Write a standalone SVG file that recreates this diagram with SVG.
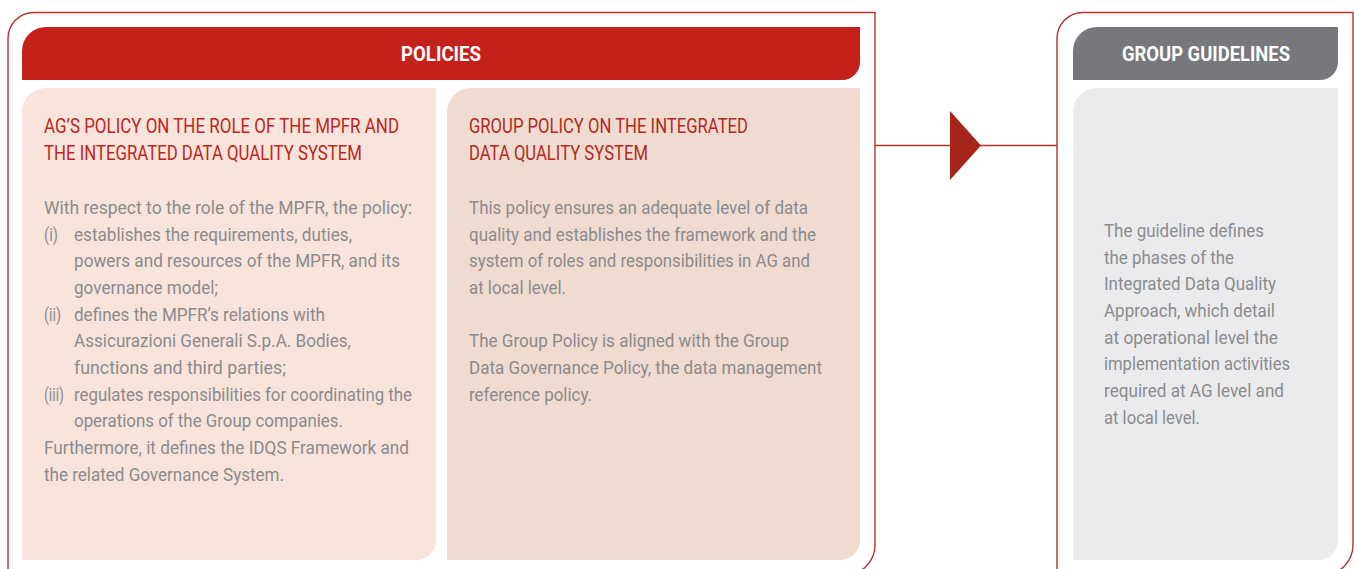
<svg xmlns="http://www.w3.org/2000/svg" width="1354" height="569" viewBox="0 0 1354 569">
<style>
.frame{fill:none;stroke:#b8332b;stroke-width:1.4}
.hdr{font-family:Roboto,"Liberation Sans",sans-serif;font-weight:bold;font-size:21px;fill:#ffffff}
.ttl{font-family:Roboto,"Liberation Sans",sans-serif;font-size:20px;fill:#c0261e}
.body{font-family:Roboto,"Liberation Sans",sans-serif;font-size:19px;fill:#8a8b8e}
</style>
<rect width="1354" height="569" fill="#ffffff"/>
<g id="policies">
<path class="frame" d="M8,600 V38.5 A26,26 0 0 1 34,12.5 H875 V545 A30,30 0 0 1 845,575 H8"/>
<path d="M22,80 V51 A24,24 0 0 1 46,27 H860 V62 A18,18 0 0 1 842,80 Z" fill="#c4211a"/>
<text class="hdr" x="441" y="61" text-anchor="middle" textLength="80" lengthAdjust="spacingAndGlyphs">POLICIES</text>
</g>
<g id="ag-policy">
<path d="M22,560 V112 A24,24 0 0 1 46,88 H436 V540 A20,20 0 0 1 416,560 Z" fill="#f8e4da"/>
<text class="ttl" x="44" y="133" textLength="355" lengthAdjust="spacingAndGlyphs">AG’S POLICY ON THE ROLE OF THE MPFR AND</text>
<text class="ttl" x="44" y="160" textLength="318" lengthAdjust="spacingAndGlyphs">THE INTEGRATED DATA QUALITY SYSTEM</text>
<text class="body" x="44" y="214" textLength="368" lengthAdjust="spacingAndGlyphs">With respect to the role of the MPFR, the policy:</text>
<text class="body" x="44" y="240.7" textLength="14" lengthAdjust="spacingAndGlyphs">(i)</text>
<text class="body" x="74" y="240.7" textLength="278" lengthAdjust="spacingAndGlyphs">establishes the requirements, duties,</text>
<text class="body" x="74" y="267.3" textLength="326" lengthAdjust="spacingAndGlyphs">powers and resources of the MPFR, and its</text>
<text class="body" x="74" y="294" textLength="144" lengthAdjust="spacingAndGlyphs">governance model;</text>
<text class="body" x="44" y="320.7" textLength="17" lengthAdjust="spacingAndGlyphs">(ii)</text>
<text class="body" x="74" y="320.7" textLength="251" lengthAdjust="spacingAndGlyphs">defines the MPFR’s relations with</text>
<text class="body" x="74" y="347.3" textLength="277" lengthAdjust="spacingAndGlyphs">Assicurazioni Generali S.p.A. Bodies,</text>
<text class="body" x="74" y="374" textLength="212" lengthAdjust="spacingAndGlyphs">functions and third parties;</text>
<text class="body" x="44" y="400.7" textLength="20" lengthAdjust="spacingAndGlyphs">(iii)</text>
<text class="body" x="74" y="400.7" textLength="338" lengthAdjust="spacingAndGlyphs">regulates responsibilities for coordinating the</text>
<text class="body" x="74" y="427.3" textLength="269" lengthAdjust="spacingAndGlyphs">operations of the Group companies.</text>
<text class="body" x="44" y="454" textLength="365" lengthAdjust="spacingAndGlyphs">Furthermore, it defines the IDQS Framework and</text>
<text class="body" x="44" y="480.7" textLength="240" lengthAdjust="spacingAndGlyphs">the related Governance System.</text>
</g>
<g id="group-policy">
<path d="M447,560 V112 A24,24 0 0 1 471,88 H860 V540 A20,20 0 0 1 840,560 Z" fill="#f0dbd0"/>
<text class="ttl" x="469" y="133" textLength="279" lengthAdjust="spacingAndGlyphs" style="fill:#b42a22">GROUP POLICY ON THE INTEGRATED</text>
<text class="ttl" x="469" y="160" textLength="179" lengthAdjust="spacingAndGlyphs" style="fill:#b42a22">DATA QUALITY SYSTEM</text>
<text class="body" x="469" y="214" textLength="339" lengthAdjust="spacingAndGlyphs">This policy ensures an adequate level of data</text>
<text class="body" x="469" y="240.7" textLength="347" lengthAdjust="spacingAndGlyphs">quality and establishes the framework and the</text>
<text class="body" x="469" y="267.3" textLength="341" lengthAdjust="spacingAndGlyphs">system of roles and responsibilities in AG and</text>
<text class="body" x="469" y="294" textLength="97" lengthAdjust="spacingAndGlyphs">at local level.</text>
<text class="body" x="469" y="347.3" textLength="320" lengthAdjust="spacingAndGlyphs">The Group Policy is aligned with the Group</text>
<text class="body" x="469" y="374" textLength="353" lengthAdjust="spacingAndGlyphs">Data Governance Policy, the data management</text>
<text class="body" x="469" y="400.7" textLength="123" lengthAdjust="spacingAndGlyphs">reference policy.</text>
</g>
<g id="connectors">
<line x1="875" y1="145.5" x2="1057" y2="145.5" stroke="#b8332b" stroke-width="1.4"/>
<polygon points="950,111 981,145.5 950,180" fill="#a5251b"/>
</g>
<g id="group-guidelines">
<path class="frame" d="M1057,600 V38.5 A26,26 0 0 1 1083,12.5 H1353 V545 A30,30 0 0 1 1323,575 H1057"/>
<path d="M1073,80 V51 A24,24 0 0 1 1097,27 H1338 V62 A18,18 0 0 1 1320,80 Z" fill="#77787b"/>
<text class="hdr" x="1206" y="61" text-anchor="middle" textLength="168" lengthAdjust="spacingAndGlyphs">GROUP GUIDELINES</text>
<path d="M1073,560 V112 A24,24 0 0 1 1097,88 H1338 V540 A20,20 0 0 1 1318,560 Z" fill="#ebebed"/>
<text class="body" x="1104" y="237" textLength="160" lengthAdjust="spacingAndGlyphs">The guideline defines</text>
<text class="body" x="1104" y="263.7" textLength="130" lengthAdjust="spacingAndGlyphs">the phases of the</text>
<text class="body" x="1104" y="290.3" textLength="172" lengthAdjust="spacingAndGlyphs">Integrated Data Quality</text>
<text class="body" x="1104" y="317" textLength="171" lengthAdjust="spacingAndGlyphs">Approach, which detail</text>
<text class="body" x="1104" y="343.7" textLength="174" lengthAdjust="spacingAndGlyphs">at operational level the</text>
<text class="body" x="1104" y="370.3" textLength="186" lengthAdjust="spacingAndGlyphs">implementation activities</text>
<text class="body" x="1104" y="397" textLength="180" lengthAdjust="spacingAndGlyphs">required at AG level and</text>
<text class="body" x="1104" y="423.7" textLength="96" lengthAdjust="spacingAndGlyphs">at local level.</text>
</g>
</svg>
